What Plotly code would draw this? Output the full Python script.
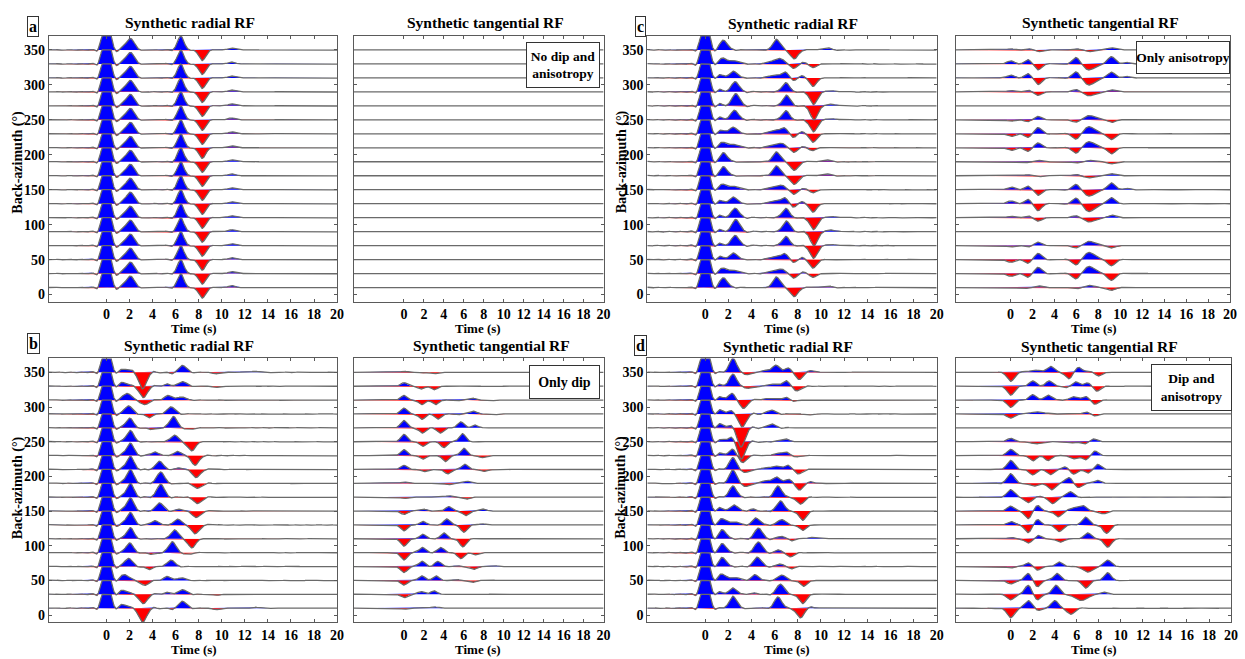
import numpy as np
import plotly.graph_objects as go

# ---------------------------------------------------------------------------
# Synthetic receiver functions, one trace every 20 degrees of back-azimuth.
# Every arrival is (time_s, amplitude, [half-width_s]); amplitude is in the
# same units as the back-azimuth axis (one trace spacing = 20).
# ---------------------------------------------------------------------------
BAZ = [10, 30, 50, 70, 90, 110, 130, 150, 170, 190, 210, 230, 250, 270, 290, 310, 330, 350]
X_TICKS = [0, 2, 4, 6, 8, 10, 12, 14, 16, 18, 20]
Y_TICKS_R = [0, 50, 100, 150, 200, 250, 300, 350]
Y_TICKS_T = [0, 100, 200, 300]

P = (0.0, 60.0, 0.4)  # direct P arrival on the radial component

# (a) flat isotropic layers
FLAT_TRACE = [P, (2.05, 16.5, 0.5), (6.45, 20.0, 0.38), (8.3, -15.0, 0.42), (10.85, 2.5)]
RADIAL_FLAT = [FLAT_TRACE for _ in BAZ]
TANG_FLAT = [[] for _ in BAZ]

# (b) dipping interface only
RADIAL_DIP = [
    [P, (1.5, 5, 0.5), (3.14, -21), (5.8, -1.5), (6.57, 10.5), (9.5, -2), (13.0, 1.5)],
    [P, (1.5, 5.5, 0.5), (3.2, -14), (5.3, 2.5), (6.6, 7), (9.5, -1.5)],
    [P, (1.6, 8.5, 0.5), (3.3, -7.5), (5.3, 5.7), (6.5, 4)],
    [P, (1.9, 12), (3.7, -4), (5.6, 9.5)],
    [P, (2.0, 14), (3.9, -2), (5.7, 16), (7.1, -2.5)],
    [P, (2.05, 16), (5.9, 13), (7.4, -13)],
    [P, (2.05, 18), (4.2, 6), (6.2, 8.5), (7.7, -13)],
    [P, (2.05, 19), (4.6, 12), (6.3, 3), (7.8, -9.5)],
    [P, (2.05, 20), (4.7, 19), (7.9, -9.5)],
    [P, (2.05, 20), (4.7, 16.5), (7.9, -7.5)],
    [P, (2.05, 19), (4.6, 12), (6.3, 2.5), (7.8, -12)],
    [P, (2.05, 18), (4.2, 5), (6.2, 6), (7.7, -14)],
    [P, (2.05, 16), (5.9, 9.5), (7.4, -13)],
    [P, (2.0, 14), (3.9, -2), (5.8, 16.5), (7.2, -2.5)],
    [P, (1.9, 12), (3.7, -5), (5.6, 10.5)],
    [P, (1.8, 10, 0.5), (3.3, -7), (5.4, 7), (6.5, 5)],
    [P, (1.5, 5, 0.5), (3.2, -17), (5.3, 3), (6.6, 7), (9.5, -1.5)],
    [P, (1.7, 5, 0.6), (3.14, -24), (5.8, -1.5), (6.57, 10.5), (9.5, -2), (13.0, 1.5)],
]
TANG_DIP = [
    [(0, -1.5), (1.8, 1.5), (3.0, 2)],
    [(0, -5), (1.7, 4), (3.0, 5), (6.8, -1)],
    [(0, -6.5), (1.8, 6.5), (3.2, 6.5), (5.2, 1.5), (6.8, -3), (8.6, 1)],
    [(0, -8.5), (1.8, 7.5), (3.4, 7.5), (5.3, 1.5), (7.0, -4), (9.0, 1.5)],
    [(0, -10.5), (1.85, 7.5), (3.7, 7.5), (5.7, -8.5), (7.1, -3)],
    [(0, -10.5), (1.9, 6.5), (4.0, 8.5), (5.9, -11.5)],
    [(0, -8.5), (1.9, 5), (4.3, 8.5), (6.0, -10.5), (7.8, 1.5)],
    [(0, -5), (1.9, 3), (4.5, 6.5), (6.2, -6.5), (7.9, 3)],
    [(0, -2), (4.5, 2), (6.2, -3)],
    [(0, 2), (4.5, -2), (6.3, 3)],
    [(0, 6), (2.0, -3), (4.4, -6.5), (6.1, 7.5), (7.9, -3), (9.0, -1)],
    [(0, 8.5), (1.9, -5), (4.15, -8.5), (6.0, 10.5), (7.8, -3)],
    [(0, 10.5), (1.9, -6.5), (4.0, -8.5), (5.85, 11.5)],
    [(0, 10.5), (1.85, -7.5), (3.65, -7.5), (5.7, 8.5), (7.1, 4)],
    [(0, 8.5), (1.8, -7.5), (3.4, -7.5), (5.3, -1.5), (6.95, 4), (9.0, -1.5)],
    [(0, 6.5), (1.8, -6.5), (3.15, -6.5), (5.2, -1.5), (6.8, 3), (8.6, -1.5)],
    [(0, 5), (1.75, -4), (3.05, -5), (6.8, 1), (8.5, -1)],
    [(0, 1.5), (1.8, -1.5), (3.0, -2)],
]

# (c) anisotropic layer only
RADIAL_ANI = [
    [P, (1.6, 14), (6.15, 15), (7.7, -13), (10.5, 2.5)],
    [P, (1.55, 8), (2.5, 5, 0.5), (5.8, 4, 0.6), (6.6, 6), (7.7, -6.5), (8.4, 3), (9.3, -5)],
    [P, (1.4, 4), (2.45, 9.5), (5.9, 4, 0.6), (6.85, 8.5), (7.6, -4), (8.4, 3), (9.3, -12)],
    [P, (1.4, 2.5), (2.6, 15), (6.95, 13), (9.35, -18), (10.9, 2)],
    [P, (1.4, 2), (2.65, 18), (7.0, 15), (9.4, -20), (10.9, 2.5)],
    [P, (1.4, 2.5), (2.6, 14), (6.95, 13), (9.35, -17), (10.9, 2)],
    [P, (1.4, 4), (2.45, 9.5), (5.9, 4, 0.6), (6.85, 8.5), (7.6, -5), (8.4, 3), (9.3, -12)],
    [P, (1.55, 8), (2.5, 5, 0.5), (5.8, 4, 0.6), (6.6, 6), (7.7, -6.5), (8.4, 2.5), (9.3, -4)],
    [P, (1.6, 13), (6.15, 14), (7.7, -12.5), (10.5, 2.5)],
    [P, (1.6, 13), (6.15, 14), (7.7, -12.5), (10.5, 2.5)],
    [P, (1.55, 8), (2.5, 5, 0.5), (5.8, 4, 0.6), (6.6, 6), (7.7, -6.5), (8.4, 2.5), (9.2, -4)],
    [P, (1.5, 5), (2.45, 9.5), (5.9, 5, 0.6), (6.8, 8.5), (7.6, -5), (8.4, 3), (9.3, -12)],
    [P, (1.4, 3), (2.55, 14), (6.95, 13), (9.35, -17), (10.9, 2)],
    [P, (1.4, 2), (2.65, 18), (7.0, 15), (9.4, -20), (10.9, 2.5)],
    [P, (1.4, 2.5), (2.6, 15), (6.95, 13), (9.35, -18), (10.9, 2)],
    [P, (1.4, 4), (2.45, 9.5), (5.9, 4, 0.6), (6.9, 8.5), (7.6, -4), (8.4, 3), (9.3, -12)],
    [P, (1.55, 8.5), (2.5, 5, 0.5), (5.8, 4, 0.6), (6.5, 7), (7.7, -6.5), (8.4, 3), (9.3, -5)],
    [P, (1.6, 14), (6.15, 15), (7.7, -13), (10.5, 3)],
]
TANG_ANI = [
    [(0, -1), (1.6, -1), (2.5, 2.5), (6.0, -2), (7.2, 3, 0.7), (9.2, -4)],
    [(0, -4), (1.6, -5), (2.5, 9), (6.0, -8), (7.2, 10, 0.7), (9.2, -10)],
    [(0, -4), (1.6, -5), (2.5, 9), (6.0, -8), (7.2, 10, 0.7), (9.2, -9)],
    [(0, -2), (1.6, -2), (2.5, 5), (6.0, -3.5), (7.2, 6, 0.7), (9.2, -3.5)],
    [],
    [(0, 2), (1.6, 2.5), (2.5, -5), (6.0, 3), (7.2, -6, 0.7), (9.2, 4)],
    [(0, 4), (1.6, 6), (2.5, -10), (6.0, 8.5), (7.2, -11, 0.7), (9.2, 9)],
    [(0, 4), (1.6, 5), (2.5, -8), (6.0, 8), (7.2, -9, 0.7), (9.2, 10), (10.5, 2)],
    [(0, 1), (1.6, 1.5), (2.5, -1.5), (6.0, 2), (7.2, -3, 0.7), (9.2, 3)],
    [(0, -1), (1.6, -1), (2.5, 2), (6.0, -2), (7.2, 2, 0.7), (9.2, -3)],
    [(0, -4), (1.6, -5), (2.5, 7), (6.0, -8), (7.2, 8.5, 0.7), (9.2, -9)],
    [(0, -4), (1.6, -5), (2.5, 9), (6.0, -8), (7.2, 10, 0.7), (9.2, -8.5)],
    [(0, -2), (1.6, -2.5), (2.5, 5), (6.0, -3.5), (7.2, 6, 0.7), (9.2, -4)],
    [],
    [(0, 2), (1.6, 2.5), (2.5, -5), (6.0, 3.5), (7.2, -5.5, 0.7), (9.2, 3)],
    [(0, 4), (1.6, 6), (2.5, -9.5), (6.0, 9), (7.2, -10, 0.7), (9.2, 8.5), (10.5, 2)],
    [(0, 4.5), (1.6, 6), (2.5, -8.5), (6.0, 9.5), (7.2, -8.5, 0.7), (9.2, 10.5), (10.5, 2)],
    [(0, 1.5), (1.6, 2), (2.5, -2.5), (6.0, 2), (7.2, -2.5, 0.7), (9.2, 3)],
]

# (d) dipping interface plus anisotropic layer
RADIAL_DIPANI = [
    [P, (2.4, 17), (6.3, 16), (8.2, -14), (9.2, 1.5)],
    [P, (1.3, 3), (2.4, 9), (4.1, 2), (6.5, 15), (8.4, -13)],
    [P, (1.5, 9, 0.5), (2.6, 5), (4.3, 8), (6.6, 8), (8.5, -8)],
    [P, (1.5, 13), (4.5, 14), (6.5, 4), (7.4, -3)],
    [P, (1.5, 13), (4.6, 16), (6.4, 4), (7.3, -6)],
    [P, (1.5, 13), (4.6, 16), (6.6, 4), (7.4, -2.5), (9.2, 2)],
    [P, (1.5, 9, 0.5), (2.6, 5), (4.4, 10), (6.6, 8), (8.4, -7.5)],
    [P, (1.3, 4, 0.5), (2.5, 9), (4.1, 2.5), (6.5, 15), (8.4, -13)],
    [P, (2.4, 16), (6.3, 16), (8.2, -10)],
    [P, (2.4, 19), (3.5, -4, 0.6), (5.5, 4, 0.8), (6.25, 7), (7.3, 6), (8.1, -10), (9.2, 2)],
    [P, (2.4, 17), (3.4, -4, 0.6), (5.6, 3, 0.8), (6.3, 3), (7.2, 6), (8.0, -7)],
    [P, (1.4, 3), (2.4, 9), (3.2, -10.5), (6.3, 3, 0.6), (7.0, 4), (7.9, -2)],
    [P, (1.6, 3), (2.4, 6), (3.1, -26), (6.5, 2), (7.0, 3)],
    [P, (1.3, 5), (2.2, 3), (3.1, -28), (5.7, 6)],
    [P, (1.3, 5), (2.2, 4), (3.2, -19), (5.7, 6), (9.0, -1.5)],
    [P, (1.3, 4), (2.3, 9), (3.3, -12), (5.5, 2, 0.8), (7.0, 4), (7.6, -2)],
    [P, (1.3, 2), (2.4, 17), (3.8, -3, 0.6), (5.9, 3, 0.7), (7.0, 7), (7.9, -7)],
    [P, (2.4, 20), (3.7, -3, 0.6), (5.3, 3, 0.8), (6.15, 9), (7.2, 6), (8.1, -10.5), (9.1, 2)],
]
TANG_DIPANI = [
    [(0, -14), (1.6, 11), (2.5, -3), (4.0, 11), (5.45, -9)],
    [(0, -8), (1.6, 13), (2.4, -8), (4.1, 13), (6.4, -9, 0.8), (8.4, 3)],
    [(0, -5), (1.6, 10), (2.4, -9), (4.2, 10), (6.8, -11), (8.8, 11)],
    [(0, -2), (1.6, 5.5), (2.4, -5), (4.4, 6.5), (7.0, -8, 0.6), (8.8, 9.5)],
    [],
    [(0, 2), (1.6, -6), (2.5, 4.5), (4.5, -5), (7.0, 8.5), (8.8, -12)],
    [(0, 5), (1.6, -11), (2.4, 7.5), (4.4, -9.5), (6.8, 11), (8.7, -12)],
    [(0, 7), (1.6, -11), (2.4, 8), (4.3, -8), (5.8, 5, 0.6), (6.6, 7), (8.4, -4)],
    [(0, 11), (1.6, -8), (2.4, 1), (3.8, -9.5), (5.4, 8)],
    [(0, 14), (2.1, -4, 0.6), (3.7, -9.5), (5.3, 8.5), (6.1, -6), (7.9, 4)],
    [(0, 13), (2.0, -7.5), (3.6, -7.5), (5.0, 4), (5.7, -7), (7.0, -5), (7.9, 7)],
    [(0, 9), (2.0, -7.5), (3.4, -7), (5.7, -5), (6.8, -6.5), (7.6, 6.5)],
    [(0, 5), (2.4, -3, 0.8), (5.5, -2), (6.7, -3.5), (7.5, 4)],
    [],
    [(0, -6), (2.4, 3, 0.8), (6.9, 3), (7.6, -3)],
    [(0, -10.5), (2.0, 7.5), (3.4, 7, 0.5), (5.7, 5), (6.8, 5.5), (7.6, -6)],
    [(0, -13), (2.0, 7.5), (3.5, 7.5), (5.1, -2), (5.9, 6.5), (7.0, 5), (7.8, -7)],
    [(0, -13), (2.2, 3, 0.8), (3.65, 8.5), (5.3, -9.5), (6.1, 7), (7.0, 2), (8.0, -5)],
]

DEFAULT_WIDTH = 0.45
CLIP = 20.0  # positive swings are clipped at the next trace's baseline
T = np.arange(-5.0, 20.0001, 0.02)


def wavelet(t, w):
    """Gaussian pulse with the weak side-lobe ringing of the deconvolution."""
    u = np.abs(t) * 0.42 / w
    main = np.exp(-(t / w) ** 2)
    taper = np.clip((u - 0.45) / 0.35, 0.0, 1.0) ** 2
    ring = -np.cos(2 * np.pi * (u - 0.88)) * (0.008 + 0.035 * np.exp(-((u - 0.88) / 0.45) ** 2))
    return main + ring * taper * np.exp(-u / 25.0)


def synth(pulses):
    s = np.zeros_like(T)
    for p in pulses:
        w = p[2] if len(p) > 2 else DEFAULT_WIDTH
        s += p[1] * wavelet(T - p[0], w)
    return np.minimum(s, CLIP)


def panel_traces(traces, xa, ya):
    """Blue (positive) and red (negative) filled wiggles plus the trace lines."""
    px, py, nx, ny, lx, ly = [], [], [], [], [], []
    for baz, pulses in zip(BAZ, traces):
        s = synth(pulses)
        pos = np.maximum(s, 0.0)
        neg = np.minimum(s, 0.0)
        back = T[::-1].tolist()
        base = [baz] * len(T)
        px += T.tolist() + back + [None]
        py += (baz + pos).tolist() + base + [None]
        nx += T.tolist() + back + [None]
        ny += (baz + neg).tolist() + base + [None]
        lx += T.tolist() + [None]
        ly += (baz + s).tolist() + [None]
    common = dict(xaxis=xa, yaxis=ya, mode="lines", hoverinfo="skip", showlegend=False)
    return [
        go.Scatter(x=px, y=py, fill="toself", fillcolor="#0000ff",
                   line=dict(width=0, color="#0000ff"), **common),
        go.Scatter(x=nx, y=ny, fill="toself", fillcolor="#ff0000",
                   line=dict(width=0, color="#ff0000"), **common),
        go.Scatter(x=lx, y=ly, line=dict(color="#6a6a6a", width=1.3), **common),
    ]


W, H = 1245, 659


def hx(px):
    return px / W


def vy(py):
    return 1 - py / H


# panel boxes in pixels: (left, right, top, bottom)
PANELS = [
    ("x", "y", RADIAL_FLAT, True, (49, 339, 36, 302)),
    ("x2", "y2", TANG_FLAT, False, (356, 607, 36, 302)),
    ("x3", "y3", RADIAL_ANI, True, (651, 942, 36, 302)),
    ("x4", "y4", TANG_ANI, False, (961, 1237, 36, 302)),
    ("x5", "y5", RADIAL_DIP, True, (49, 339, 359, 623)),
    ("x6", "y6", TANG_DIP, False, (356, 607, 359, 623)),
    ("x7", "y7", RADIAL_DIPANI, True, (651, 942, 359, 623)),
    ("x8", "y8", TANG_DIPANI, False, (961, 1238, 359, 623)),
]

SERIF = "Liberation Serif"
tick_font = dict(family=SERIF, size=14, color="black", weight="bold")

fig = go.Figure()
layout = dict(
    width=W, height=H, margin=dict(l=0, r=0, t=0, b=0),
    paper_bgcolor="white", plot_bgcolor="white", showlegend=False,
)
annotations = []

for xa, ya, traces, radial, (l, r, t, b) in PANELS:
    for tr in panel_traces(traces, xa, ya):
        fig.add_trace(tr)
    xkey = "xaxis" + xa[1:]
    ykey = "yaxis" + ya[1:]
    axis_style = dict(showline=True, mirror="ticks", linecolor="#5a5a5a", linewidth=1,
                      ticks="inside", ticklen=3, tickcolor="#5a5a5a", showgrid=False,
                      zeroline=False, tickfont=tick_font, fixedrange=True)
    layout[xkey] = dict(domain=[hx(l), hx(r)], range=[-5, 20], anchor=ya,
                        tickvals=X_TICKS, **axis_style)
    layout[ykey] = dict(domain=[vy(b), vy(t)], range=[-10, 370], anchor=xa,
                        tickvals=Y_TICKS_R if radial else Y_TICKS_T,
                        showticklabels=radial, **axis_style)


def label(text, x, y, size=14, angle=0, **kw):
    annotations.append(dict(text=text, x=hx(x), y=vy(y), xref="paper", yref="paper",
                            showarrow=False, textangle=angle, xanchor="center",
                            yanchor="middle",
                            font=dict(family=SERIF, size=size, color="black", weight="bold"),
                            **kw))


# panel titles
for text, x, y in [
    ("Synthetic radial RF", 191, 23), ("Synthetic tangential RF", 488, 23),
    ("Synthetic radial RF", 797, 24), ("Synthetic tangential RF", 1107, 23),
    ("Synthetic radial RF", 190, 346), ("Synthetic tangential RF", 494, 346),
    ("Synthetic radial RF", 792, 347), ("Synthetic tangential RF", 1106, 347),
]:
    label(text, x, y, size=15.5)

# axis titles
for x, y in [(195, 329), (481, 329), (791, 329), (1100, 329),
             (195, 650), (481, 650), (791, 650), (1100, 650)]:
    label("Time (s)", x, y, size=13)
for x, y in [(18, 162), (18, 488), (625, 162), (625, 488)]:
    label("Back-azimuth (°)", x, y, angle=-90)

# panel letters
for text, x, y in [("a", 33, 27), ("b", 34, 344), ("c", 644, 27), ("d", 644, 346)]:
    label(text, x, y, size=16, bordercolor="#333333", borderwidth=1, borderpad=1,
          bgcolor="white")


def boxed(text, l, r, t, b, size=14):
    annotations.append(dict(text=text, x=hx(l), y=vy(t), xref="paper", yref="paper",
                            xanchor="left", yanchor="top", showarrow=False,
                            width=r - l - 2, height=b - t - 2, align="center",
                            valign="middle", bgcolor="white", bordercolor="#333333",
                            borderwidth=1, borderpad=0,
                            font=dict(family=SERIF, size=size, color="black",
                                      weight="bold")))


boxed("No dip and<br>anisotropy", 529, 603, 42, 88, size=13.5)
boxed("Only dip", 532, 603, 366, 400)
boxed("Only anisotropy", 1142, 1236, 41, 74, size=13.5)
boxed("Dip and<br>anisotropy", 1158, 1239, 365, 412, size=13.5)

layout["annotations"] = annotations
fig.update_layout(**layout)
fig.write_html("out.html")
